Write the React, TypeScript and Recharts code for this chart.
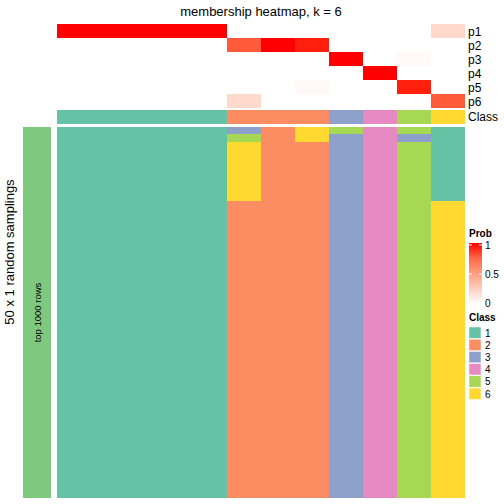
import React from "react";
import { BarChart, Bar, Cell, XAxis, YAxis } from "recharts";

// 12 samples (columns of the heatmap)
const columns = ["s1", "s2", "s3", "s4", "s5", "s6", "s7", "s8", "s9", "s10", "s11", "s12"];

// membership probabilities per class
const p1 = [1, 1, 1, 1, 1, 0, 0, 0, 0, 0, 0, 0.2];
const p2 = [0, 0, 0, 0, 0, 0.8, 1, 0.97, 0, 0, 0, 0];
const p3 = [0, 0, 0, 0, 0, 0, 0, 0, 1, 0, 0.03, 0];
const p4 = [0, 0, 0, 0, 0, 0, 0, 0, 0, 1, 0, 0];
const p5 = [0, 0, 0, 0, 0, 0, 0, 0.03, 0, 0, 0.97, 0];
const p6 = [0, 0, 0, 0, 0, 0.2, 0, 0, 0, 0, 0, 0.8];
const probRows = [p1, p2, p3, p4, p5, p6];
const probLabels = ["p1", "p2", "p3", "p4", "p5", "p6"];

// final class per column
const classes = [1, 1, 1, 1, 1, 2, 2, 2, 3, 4, 5, 6];

// class found in each of the 50 random samplings, per column
const samplings = [
  "11111111111111111111111111111111111111111111111111",
  "11111111111111111111111111111111111111111111111111",
  "11111111111111111111111111111111111111111111111111",
  "11111111111111111111111111111111111111111111111111",
  "11111111111111111111111111111111111111111111111111",
  "35666666662222222222222222222222222222222222222222",
  "22222222222222222222222222222222222222222222222222",
  "66222222222222222222222222222222222222222222222222",
  "53333333333333333333333333333333333333333333333333",
  "44444444444444444444444444444444444444444444444444",
  "53555555555555555555555555555555555555555555555555",
  "11111111116666666666666666666666666666666666666666",
];

const classLegend = ["1", "2", "3", "4", "5", "6"];
const classColors: Record<number, string> = {
  1: "#66C2A5", 2: "#FC8D62", 3: "#8DA0CB", 4: "#E78AC3", 5: "#A6D854", 6: "#FFD92F",
};
const nSamp = samplings[0].length;

const font = '"Liberation Sans", Arial, sans-serif';

// white -> red in LAB space
function probColor(t: number) {
  const L = 100 + (53.24 - 100) * t, A = 80.09 * t, B = 67.2 * t;
  const fy = (L + 16) / 116, fx = fy + A / 500, fz = fy - B / 200;
  const f = (v: number) => (v ** 3 > 0.008856 ? v ** 3 : (v - 16 / 116) / 7.787);
  const X = 0.95047 * f(fx), Y = f(fy), Z = 1.08883 * f(fz);
  const r = 3.2406 * X - 1.5372 * Y - 0.4986 * Z;
  const g = -0.9689 * X + 1.8758 * Y + 0.0415 * Z;
  const b = 0.0557 * X - 0.204 * Y + 1.057 * Z;
  const gam = (c: number) => {
    c = Math.min(1, Math.max(0, c));
    return Math.round(255 * (c <= 0.0031308 ? 12.92 * c : 1.055 * c ** (1 / 2.4) - 0.055));
  };
  return `rgb(${gam(r)},${gam(g)},${gam(b)})`;
}

const topData = columns.map((col) => {
  const row: Record<string, string | number> = { col };
  probRows.forEach((_, k) => (row["c" + k] = 1));
  return row;
});
const classData = columns.map((col) => ({ col, v: 1 }));
const bottomData = columns.map((col) => {
  const row: Record<string, string | number> = { col };
  for (let k = 0; k < nSamp; k++) row["r" + k] = 1;
  return row;
});

const W = 408;
const X0 = 57;

export default function App() {
  return (
    <div style={{ position: "absolute", left: 0, top: 0, width: 504, height: 504, background: "#fff", fontFamily: font }}>
      <style>{`.hm rect, .hm path { shape-rendering: crispEdges; }`}</style>

      <div className="hm" style={{ position: "absolute", left: X0, top: 24 }}>
        <BarChart width={W} height={84} data={topData} margin={{ top: 0, right: 0, bottom: 0, left: 0 }} barCategoryGap={0} barGap={0}>
          <XAxis dataKey="col" hide />
          <YAxis hide type="number" domain={[0, 6]} reversed />
          {probRows.map((vals, k) => (
            <Bar key={k} dataKey={"c" + k} stackId="a" isAnimationActive={false}>
              {vals.map((v, i) => <Cell key={i} fill={probColor(v)} />)}
            </Bar>
          ))}
        </BarChart>
      </div>

      <div className="hm" style={{ position: "absolute", left: X0, top: 110 }}>
        <BarChart width={W} height={14} data={classData} margin={{ top: 0, right: 0, bottom: 0, left: 0 }} barCategoryGap={0} barGap={0}>
          <XAxis dataKey="col" hide />
          <YAxis hide type="number" domain={[0, 1]} />
          <Bar dataKey="v" isAnimationActive={false}>
            {classes.map((c, i) => <Cell key={i} fill={classColors[c]} />)}
          </Bar>
        </BarChart>
      </div>

      <div className="hm" style={{ position: "absolute", left: X0, top: 127 }}>
        <BarChart width={W} height={371} data={bottomData} margin={{ top: 0, right: 0, bottom: 0, left: 0 }} barCategoryGap={0} barGap={0}>
          <XAxis dataKey="col" hide />
          <YAxis hide type="number" domain={[0, nSamp]} reversed />
          {Array.from({ length: nSamp }, (_, k) => (
            <Bar key={k} dataKey={"r" + k} stackId="s" isAnimationActive={false}>
              {samplings.map((s, i) => <Cell key={i} fill={classColors[Number(s[k])]} />)}
            </Bar>
          ))}
        </BarChart>
      </div>

      <div className="hm" style={{ position: "absolute", left: 23, top: 127 }}>
        <BarChart width={28} height={371} data={[{ name: "top 1000 rows", v: 1 }]} margin={{ top: 0, right: 0, bottom: 0, left: 0 }} barCategoryGap={0}>
          <XAxis dataKey="name" hide />
          <YAxis hide type="number" domain={[0, 1]} />
          <Bar dataKey="v" fill="#7FC97F" isAnimationActive={false} />
        </BarChart>
      </div>

      <svg width={504} height={504} style={{ position: "absolute", left: 0, top: 0, pointerEvents: "none" }} fontFamily={font}>
        <defs>
          <linearGradient id="probGrad" x1="0" y1="1" x2="0" y2="0">
            {[0, 0.25, 0.5, 0.75, 1].map((t) => (
              <stop key={t} offset={t} stopColor={probColor(t)} />
            ))}
          </linearGradient>
        </defs>
        <text x={261} y={16} fontSize={13} textAnchor="middle">membership heatmap, k = 6</text>
        {probLabels.map((l, k) => (
          <text key={l} x={468} y={35.5 + k * 14} fontSize={12}>{l}</text>
        ))}
        <text x={468} y={121} fontSize={12}>Class</text>

        <text x={14} y={252} fontSize={13} textAnchor="middle" transform="rotate(-90 14 252)">50 x 1 random samplings</text>
        <text x={41} y={312.5} fontSize={9.5} textAnchor="middle" transform="rotate(-90 41 312.5)">top 1000 rows</text>

        <text x={469} y={237} fontSize={10} fontWeight="bold">Prob</text>
        <rect x={469} y={243} width={13} height={61} fill="url(#probGrad)" />
        {[245, 274].map((y) => (
          <g key={y}>
            <line x1={469} x2={472} y1={y} y2={y} stroke="#fff" strokeWidth={1} />
            <line x1={479} x2={482} y1={y} y2={y} stroke="#fff" strokeWidth={1} />
          </g>
        ))}
        <text x={485} y={249} fontSize={10}>1</text>
        <text x={485} y={278} fontSize={10}>0.5</text>
        <text x={485} y={307} fontSize={10}>0</text>

        <text x={469} y={321} fontSize={10} fontWeight="bold">Class</text>
        {classLegend.map((c, i) => (
          <g key={c}>
            <rect x={469} y={327 + i * 12.2} width={12} height={11.4} fill={classColors[Number(c)]} stroke="#fff" strokeWidth={0.5} />
            <text x={485} y={336.5 + i * 12.2} fontSize={10}>{c}</text>
          </g>
        ))}
      </svg>
    </div>
  );
}
